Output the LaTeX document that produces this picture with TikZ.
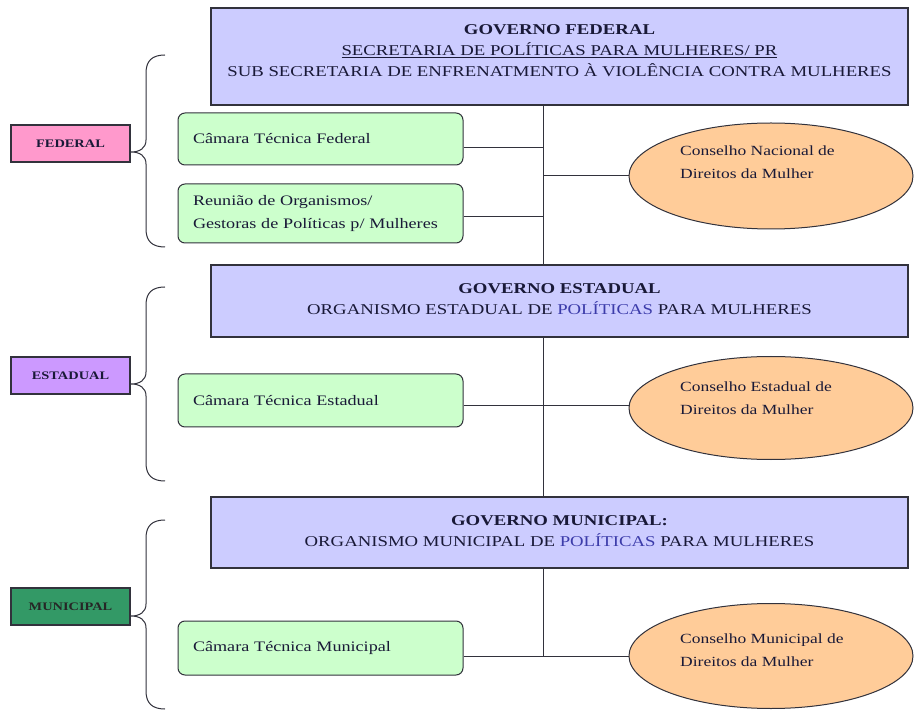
\documentclass[tikz,border=0pt]{standalone}
\usepackage{fontspec}
\setmainfont{Liberation Serif}[FakeStretch=1.25]
\usetikzlibrary{shapes.geometric}
\definecolor{hdrfill}{RGB}{204,204,255}
\definecolor{grnfill}{RGB}{204,255,204}
\definecolor{ellfill}{RGB}{255,204,153}
\definecolor{pinkfill}{RGB}{255,153,204}
\definecolor{purfill}{RGB}{204,153,255}
\definecolor{darkgrn}{RGB}{51,153,102}
\definecolor{txt}{RGB}{25,25,55}
\definecolor{polblue}{RGB}{60,60,170}
\definecolor{edge}{RGB}{50,50,60}
\newcommand\levelbrace[3]{%
  \draw[bracestyle] (165,#1) .. controls (152,#1) and (146,#1+6) .. (146,#1+18)
    -- (146,#2-12) .. controls (146,#2-4) and (140,#2) .. (131,#2)
    .. controls (140,#2) and (146,#2+4) .. (146,#2+12)
    -- (146,#3-18) .. controls (146,#3-6) and (152,#3) .. (165,#3);}
\tikzset{
  hdr/.style={draw=edge, line width=1.2pt, fill=hdrfill, minimum width=697pt, inner sep=0pt},
  hdrtxt/.style={text=txt, align=center, font=\fontsize{15}{21}\selectfont, inner sep=0pt},
  grnbox/.style={draw=edge, line width=1pt, fill=grnfill, rounded corners=7pt, minimum width=285pt,
    text width=255pt, inner xsep=15pt, inner ysep=0pt, align=left, text=txt,
    font=\fontsize{14.5}{23}\selectfont},
  ellbox/.style={ellipse, draw=edge, line width=1pt, fill=ellfill, minimum width=284pt, inner sep=0pt},
  elltxt/.style={anchor=west, align=left, text=txt, inner sep=0pt, font=\fontsize{14}{23}\selectfont},
  lvl/.style={draw=edge, line width=1.2pt, minimum width=119pt, minimum height=37pt, inner sep=0pt,
    font=\fontsize{11.5}{13}\selectfont\bfseries},
  conn/.style={draw=edge, line width=1pt},
  bracestyle/.style={draw=edge, line width=1pt},
}
\begin{document}
\begin{tikzpicture}[x=1pt, y=-1pt]
\useasboundingbox (0,0) rectangle (919,711);
\fill[white] (0,0) rectangle (919,711);

% header boxes
\node[hdr, minimum height=97pt] (fed) at (559.5,56.5) {};
\node[hdrtxt] (fedt) at (559.5,51) {\textbf{GOVERNO FEDERAL}\\ \underline{SECRETARIA DE POLÍTICAS PARA MULHERES/ PR}\\ SUB SECRETARIA DE ENFRENATMENTO À VIOLÊNCIA CONTRA MULHERES};
\node[hdr, minimum height=72pt] (est) at (559.5,301) {};
\node[hdrtxt] (estt) at (559.5,299) {\textbf{GOVERNO ESTADUAL}\\ ORGANISMO ESTADUAL DE \textcolor{polblue}{POLÍTICAS} PARA MULHERES};
\node[hdr, minimum height=71pt] (mun) at (559.5,532.5) {};
\node[hdrtxt] (munt) at (559.5,531) {\textbf{GOVERNO MUNICIPAL:}\\ ORGANISMO MUNICIPAL DE \textcolor{polblue}{POLÍTICAS} PARA MULHERES};

% green boxes
\node[grnbox, minimum height=52pt] (cf) at (320.5,139) {Câmara Técnica Federal};
\node[grnbox, minimum height=59pt] (rf) at (320.5,213.5) {Reunião de Organismos/\\Gestoras de Políticas p/ Mulheres};
\node[grnbox, minimum height=53pt] (ce) at (320.5,400.5) {Câmara Técnica Estadual};
\node[grnbox, minimum height=54pt] (cm) at (320.5,648) {Câmara Técnica Municipal};

% ellipses
\node[ellbox, minimum height=106pt] (en) at (771,176) {};
\node[elltxt] (ent) at (680,162) {Conselho Nacional de\\Direitos da Mulher};
\node[ellbox, minimum height=103pt] (ee) at (771,408) {};
\node[elltxt] (eet) at (680,398) {Conselho Estadual de\\Direitos da Mulher};
\node[ellbox, minimum height=105pt] (em) at (771,656) {};
\node[elltxt] (emt) at (680,650) {Conselho Municipal de\\Direitos da Mulher};

% level labels
\node[lvl, fill=pinkfill, text=txt] (fl) at (70.5,143.5) {FEDERAL\hspace{20pt}};
\node[lvl, fill=purfill, text=txt] (el) at (70.5,375.5) {ESTADUAL\hspace{14pt}};
\node[lvl, fill=darkgrn, text=black!85] (ml) at (70.5,606.5) {MUNICIPAL\hspace{8pt}};

% braces
\levelbrace{55}{152}{247}
\levelbrace{287}{384}{481}
\levelbrace{520}{616}{709}

% connectors
\coordinate (vx) at (543,0);
\draw[conn] (fed.south -| vx) -- (est.north -| vx);
\draw[conn] (est.south -| vx) -- (mun.north -| vx);
\draw[conn] (mun.south -| vx) -- (vx |- em.west);
\coordinate (j1) at ([yshift=-9pt]cf.east);
\draw[conn] (j1) -- (j1 -| vx);
\coordinate (j2) at ([yshift=-3.5pt]rf.east);
\draw[conn] (j2) -- (j2 -| vx);
\draw[conn] (vx |- en.west) -- (en.west);
\coordinate (j3) at ([yshift=-5pt]ce.east);
\draw[conn] (j3) -- (j3 -| ee.west);
\coordinate (j4) at ([yshift=-8pt]cm.east);
\draw[conn] (j4) -- (j4 -| em.west);
\end{tikzpicture}
\end{document}
